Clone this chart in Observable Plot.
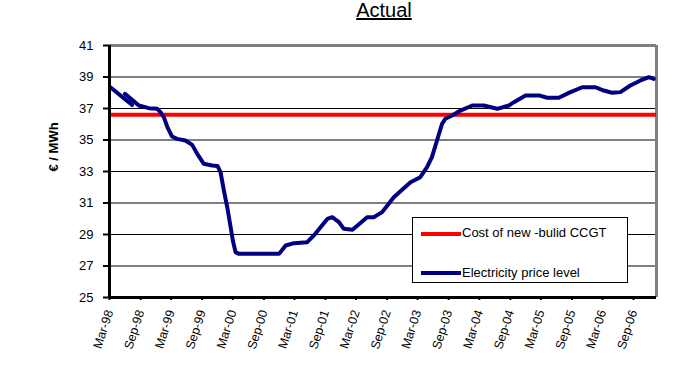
<!DOCTYPE html>
<html><head><meta charset="utf-8">
<script src="https://cdn.jsdelivr.net/npm/d3@7"></script>
<script src="https://cdn.jsdelivr.net/npm/@observablehq/plot@0.6"></script>
<style>
body{margin:0;background:#fff;font-family:"Liberation Sans",Arial,sans-serif;}
#wrap{position:relative;width:697px;height:371px;overflow:hidden;}
#title{position:absolute;left:284px;top:0px;width:200px;text-align:center;font-size:20px;line-height:21px;text-decoration:underline;color:#000;}
#legend{position:absolute;left:412px;top:217px;width:214px;height:64px;border:1px solid #000;background:#fff;}
.sw{position:absolute;left:8px;width:40px;height:4px;}
.lt{position:absolute;left:49px;font-size:13px;line-height:16px;white-space:nowrap;color:#000;}
</style></head>
<body>
<div id="wrap">
<div id="chart"></div>
<div id="title">Actual</div>
<div id="legend">
 <div class="sw" style="top:14px;background:#ff0000"></div><div class="lt" style="top:7px">Cost of new -bulid CCGT</div>
 <div class="sw" style="top:53px;background:#000080"></div><div class="lt" style="top:47px">Electricity price level</div>
</div>
</div>
<script>
// Electricity price level (main trace)
const priceDates = ["1998-06-01","1998-08-22","1998-10-20","1998-12-09","1998-12-28","1999-01-17","1999-02-07","1999-03-07","1999-04-06","1999-05-25","1999-07-04","1999-08-03","1999-09-11","1999-10-31","1999-12-01","1999-12-19","2000-01-08","2000-01-28","2000-02-17","2000-03-01","2000-03-17","2000-04-06","2000-11-30","2001-01-08","2001-02-27","2001-05-16","2001-06-24","2001-09-12","2001-10-11","2001-11-20","2001-12-19","2002-02-08","2002-05-06","2002-06-14","2002-08-03","2002-10-11","2003-01-18","2003-03-17","2003-04-26","2003-05-25","2003-06-24","2003-07-24","2003-08-13","2003-09-22","2003-11-10","2004-01-19","2004-03-27","2004-06-15","2004-08-23","2004-09-22","2004-11-30","2005-02-17","2005-04-07","2005-06-15","2005-08-23","2005-11-01","2006-01-19","2006-03-08","2006-04-27","2006-06-15","2006-08-13","2006-10-12","2006-12-01","2006-12-30"];
const priceValues = [37.93,37.19,37.02,36.98,36.77,36.45,35.82,35.22,35.07,34.97,34.69,34.12,33.49,33.38,33.35,32.96,31.79,30.73,29.46,28.62,27.88,27.77,27.77,28.30,28.45,28.51,28.94,29.99,30.10,29.78,29.36,29.30,30.10,30.10,30.42,31.37,32.32,32.64,33.27,33.91,34.97,36.03,36.35,36.56,36.87,37.19,37.19,36.98,37.19,37.40,37.83,37.83,37.68,37.68,38.04,38.35,38.35,38.14,38.00,38.04,38.46,38.78,38.99,38.88];
// short separate opening segment of the price trace
const startDates = ["1998-03-06","1998-07-13"];
const startValues = [38.35,37.23];
const ccgtCost = 36.6;
const yTicks = [25,27,29,31,33,35,37,39,41];
const xTickDates = ["1998-03-01","1998-09-01","1999-03-01","1999-09-01","2000-03-01","2000-09-01","2001-03-01","2001-09-01","2002-03-01","2002-09-01","2003-03-01","2003-09-01","2004-03-01","2004-09-01","2005-03-01","2005-09-01","2006-03-01","2006-09-01"];
const xStart = "1998-03-01", xEnd = "2007-01-15";

const D = s => new Date(s + "T00:00:00Z");
const main = priceDates.map((d,i)=>({date:D(d), v:priceValues[i]}));
const seg = startDates.map((d,i)=>({date:D(d), v:startValues[i]}));
const fmt = d3.utcFormat("%b-%y");

const chart = Plot.plot({
  width:697, height:371,
  marginLeft:109, marginRight:41, marginTop:45, marginBottom:74,
  x:{type:"utc", domain:[D(xStart), D(xEnd)]},
  y:{domain:[25,41]},
  style:{fontFamily:'"Liberation Sans", Arial, sans-serif', background:"white", color:"black", overflow:"visible"},
  marks:[
    Plot.ruleY(yTicks.slice(1,-1), {stroke:"black", strokeWidth:1}),
    Plot.ruleY([41], {stroke:"#808080", strokeWidth:3}),
    Plot.ruleX([D(xEnd)], {stroke:"#808080", strokeWidth:3}),
    Plot.ruleY([ccgtCost], {stroke:"#ff0000", strokeWidth:4}),
    Plot.line(seg, {x:"date", y:"v", stroke:"#000080", strokeWidth:4}),
    Plot.line(main, {x:"date", y:"v", stroke:"#000080", strokeWidth:4, curve:"linear", strokeLinejoin:"round"}),
    Plot.axisY({ticks:yTicks, tickSize:6, tickPadding:10, fontSize:13, label:null, tickFormat:d=>String(d), strokeWidth:2}),
    Plot.ruleX([D(xStart)], {stroke:"black", strokeWidth:3}),
    Plot.ruleY([25], {stroke:"black", strokeWidth:3}),
    Plot.axisX({ticks:xTickDates.map(D), tickFormat:fmt, tickRotate:-72, tickSize:3, tickPadding:10, fontSize:12.5, label:null, strokeWidth:2}),
    Plot.text(["€ / MWh"], {frameAnchor:"left", rotate:-90, dx:-56, fontWeight:"bold", fontSize:13})
  ]
});
document.getElementById("chart").appendChild(chart);
</script>
</body></html>
